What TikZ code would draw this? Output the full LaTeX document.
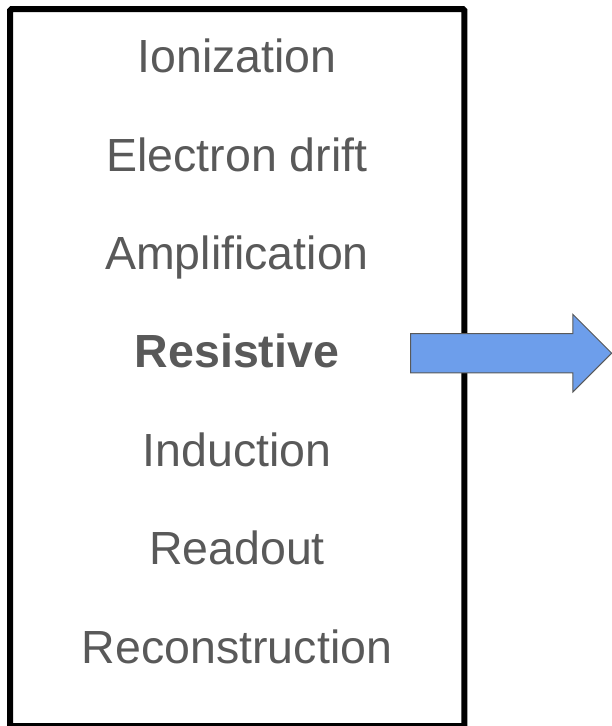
\documentclass[tikz,border=0pt]{standalone}
\usepackage{fontspec}
\setmainfont{Liberation Sans}
\usepackage{tikz}
\usetikzlibrary{positioning,shapes.arrows}
\definecolor{textgray}{HTML}{595959}
\definecolor{arrowblue}{HTML}{6D9EEB}

\begin{document}
\begin{tikzpicture}[
            x=1pt, y=-1pt,
            stage/.style = {font=\fontsize{46.5}{50}\selectfont,
                text=textgray,
                anchor=base,
                inner sep=0pt,
            },
            frame/.style = {draw=black, line width=6pt, rounded corners=1.5pt},
            flowarrow/.style = {single arrow,
                draw=textgray,
                fill=arrowblue,
                line width=1pt,
                text height=19.1pt,
                text depth=19.1pt,
                text width=0pt,
                minimum height=201pt,
                single arrow head extend=19.2pt,
                inner sep=0pt,
                outer sep=0pt,
                anchor=west,
            }
        ]
            \useasboundingbox (0,0) rectangle (612,726);
            % chain of steps inside the frame
            \draw[frame] (10,9) rectangle (464.3,726);
            \foreach \name/\label [count=\i] in {ion/Ionization, drift/Electron drift, ampl/Amplification, res/\bfseries Resistive, ind/Induction, read/Readout, reco/Reconstruction}
                \node[stage] (\name) at (237, 72.7 + 98.4*\i - 98.4) {\label};
            % arrow out of the resistive step
            \node[flowarrow] (out) at (410.7,353.2) {};
        \end{tikzpicture}
\end{document}
